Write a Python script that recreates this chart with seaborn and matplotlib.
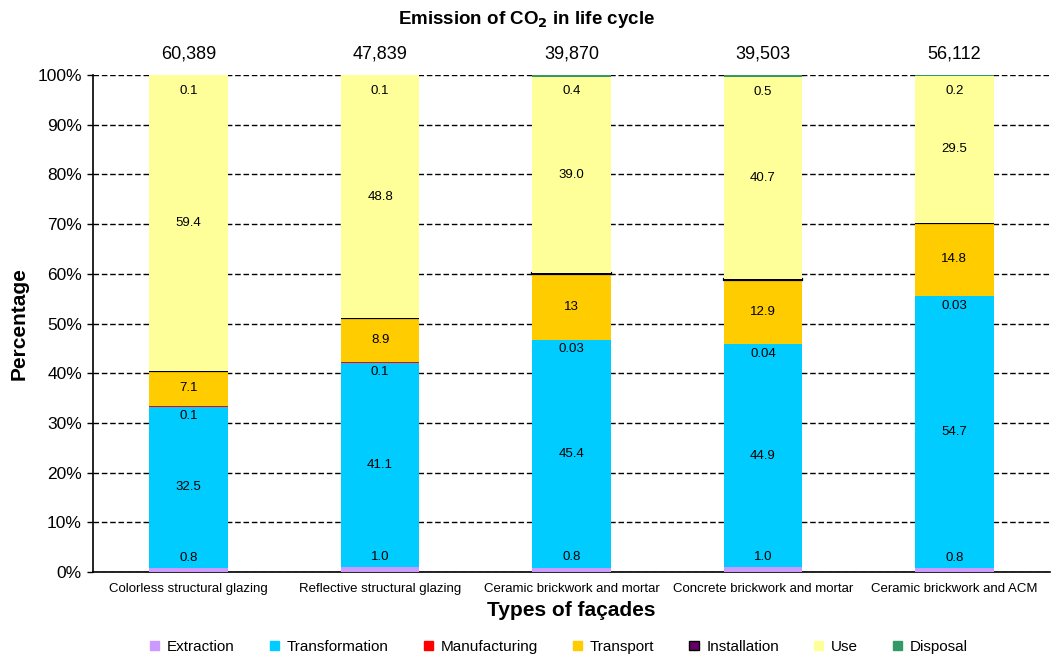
import numpy as np
import pandas as pd
import matplotlib
matplotlib.use("Agg")
import matplotlib.pyplot as plt
import seaborn as sns
from matplotlib.patches import Patch

categories = ["Colorless structural glazing", "Reflective structural glazing",
              "Ceramic brickwork and mortar", "Concrete brickwork and mortar",
              "Ceramic brickwork and ACM"]
totals = ["60,389", "47,839", "39,870", "39,503", "56,112"]

extraction = [0.8, 1.0, 0.8, 1.0, 0.8]
transformation = [32.5, 41.1, 45.4, 44.9, 54.7]
manufacturing = [0.1, 0.1, 0.03, 0.04, 0.03]
transport = [7.1, 8.9, 13, 12.9, 14.8]
installation = [0.02, 0.1, 0.2, 0.2, 0.02]
use = [59.4, 48.8, 39.0, 40.7, 29.5]
disposal = [0.1, 0.1, 0.4, 0.5, 0.2]

stages = ["Extraction", "Transformation", "Manufacturing", "Transport",
          "Installation", "Use", "Disposal"]
values = [extraction, transformation, manufacturing, transport,
          installation, use, disposal]
colors = ["#CC99FF", "#00CCFF", "#FF0000", "#FFCC00", "#660066", "#FFFF99", "#339966"]
labels_text = [["0.8", "1.0", "0.8", "1.0", "0.8"],
               ["32.5", "41.1", "45.4", "44.9", "54.7"],
               ["0.1", "0.1", "0.03", "0.04", "0.03"],
               ["7.1", "8.9", "13", "12.9", "14.8"],
               None,
               ["59.4", "48.8", "39.0", "40.7", "29.5"],
               ["0.1", "0.1", "0.4", "0.5", "0.2"]]
label_offsets = [9, 0, -7, 0, 0, 0, -11]

sns.set_theme(style="white")
plt.rcParams['font.family'] = ['Liberation Sans', 'DejaVu Sans']
plt.rcParams['text.color'] = 'black'
plt.rcParams['axes.labelcolor'] = 'black'
plt.rcParams['xtick.color'] = 'black'
plt.rcParams['ytick.color'] = 'black'

vals = np.array(values, dtype=float)
pct = vals / vals.sum(axis=0) * 100
bottoms = np.vstack([np.zeros(len(categories)), np.cumsum(pct, axis=0)[:-1]])

fig = plt.figure(figsize=(10.54, 6.55), dpi=100)
ax = fig.add_axes([93 / 1054, 1 - 572 / 655, 957 / 1054, 497 / 655])

for i, stage in enumerate(stages):
    df = pd.DataFrame({"cat": categories, "val": pct[i]})
    edge = "black" if stage == "Installation" else colors[i]
    lw = 1.6 if stage == "Installation" else 0
    sns.barplot(data=df, x="cat", y="val", order=categories, color=colors[i],
                saturation=1, width=0.41, bottom=bottoms[i], edgecolor=edge,
                linewidth=lw, ax=ax, zorder=3)

for i, stage in enumerate(stages):
    if labels_text[i] is None:
        continue
    for j in range(len(categories)):
        yc = bottoms[i][j] + pct[i][j] / 2
        ax.annotate(labels_text[i][j], (j, yc), xytext=(0, label_offsets[i]),
                    textcoords="offset points", ha="center", va="center",
                    fontsize=9.5, color="black", zorder=5)

for j, t in enumerate(totals):
    ax.annotate(t, (j, 100), xytext=(0, 15), textcoords="offset points",
                ha="center", va="center", fontsize=13, color="black",
                annotation_clip=False)

ax.set_xlim(-0.5, 4.5)
ax.set_ylim(0, 100)
ax.set_yticks(np.arange(0, 101, 10))
ax.set_yticklabels([f"{v}%" for v in range(0, 101, 10)], fontsize=12.5)
ax.tick_params(axis="x", labelsize=9.5, length=0, pad=8)
ax.tick_params(axis="y", length=4, width=1, direction="out", left=True, pad=4)
ax.yaxis.grid(True, linestyle=(0, (4, 2)), color="black", linewidth=1)
ax.set_axisbelow(True)
for s in ["top", "right"]:
    ax.spines[s].set_visible(False)
for s in ["left", "bottom"]:
    ax.spines[s].set_color("black")
    ax.spines[s].set_linewidth(1.2)

ax.set_xlabel("Types of façades", fontsize=15, fontweight="bold", labelpad=4)
ax.set_ylabel("Percentage", fontsize=15, fontweight="bold", labelpad=6)
fig.text(0.5, 1 - 20 / 655, "Emission of CO$_\\mathbf{2}$ in life cycle",
         ha="center", va="center", fontsize=13.5, fontweight="bold")

handles = [Patch(facecolor=c, edgecolor=("black" if s == "Installation" else c))
           for s, c in zip(stages, colors)]
fig.legend(handles, stages, loc="center", bbox_to_anchor=(559 / 1054, 1 - 647 / 655),
           ncol=7, frameon=False, fontsize=11, handlelength=0.6, handleheight=0.6,
           handletextpad=0.5, columnspacing=2.3, borderaxespad=0)

fig.savefig("out.png", dpi=100)
